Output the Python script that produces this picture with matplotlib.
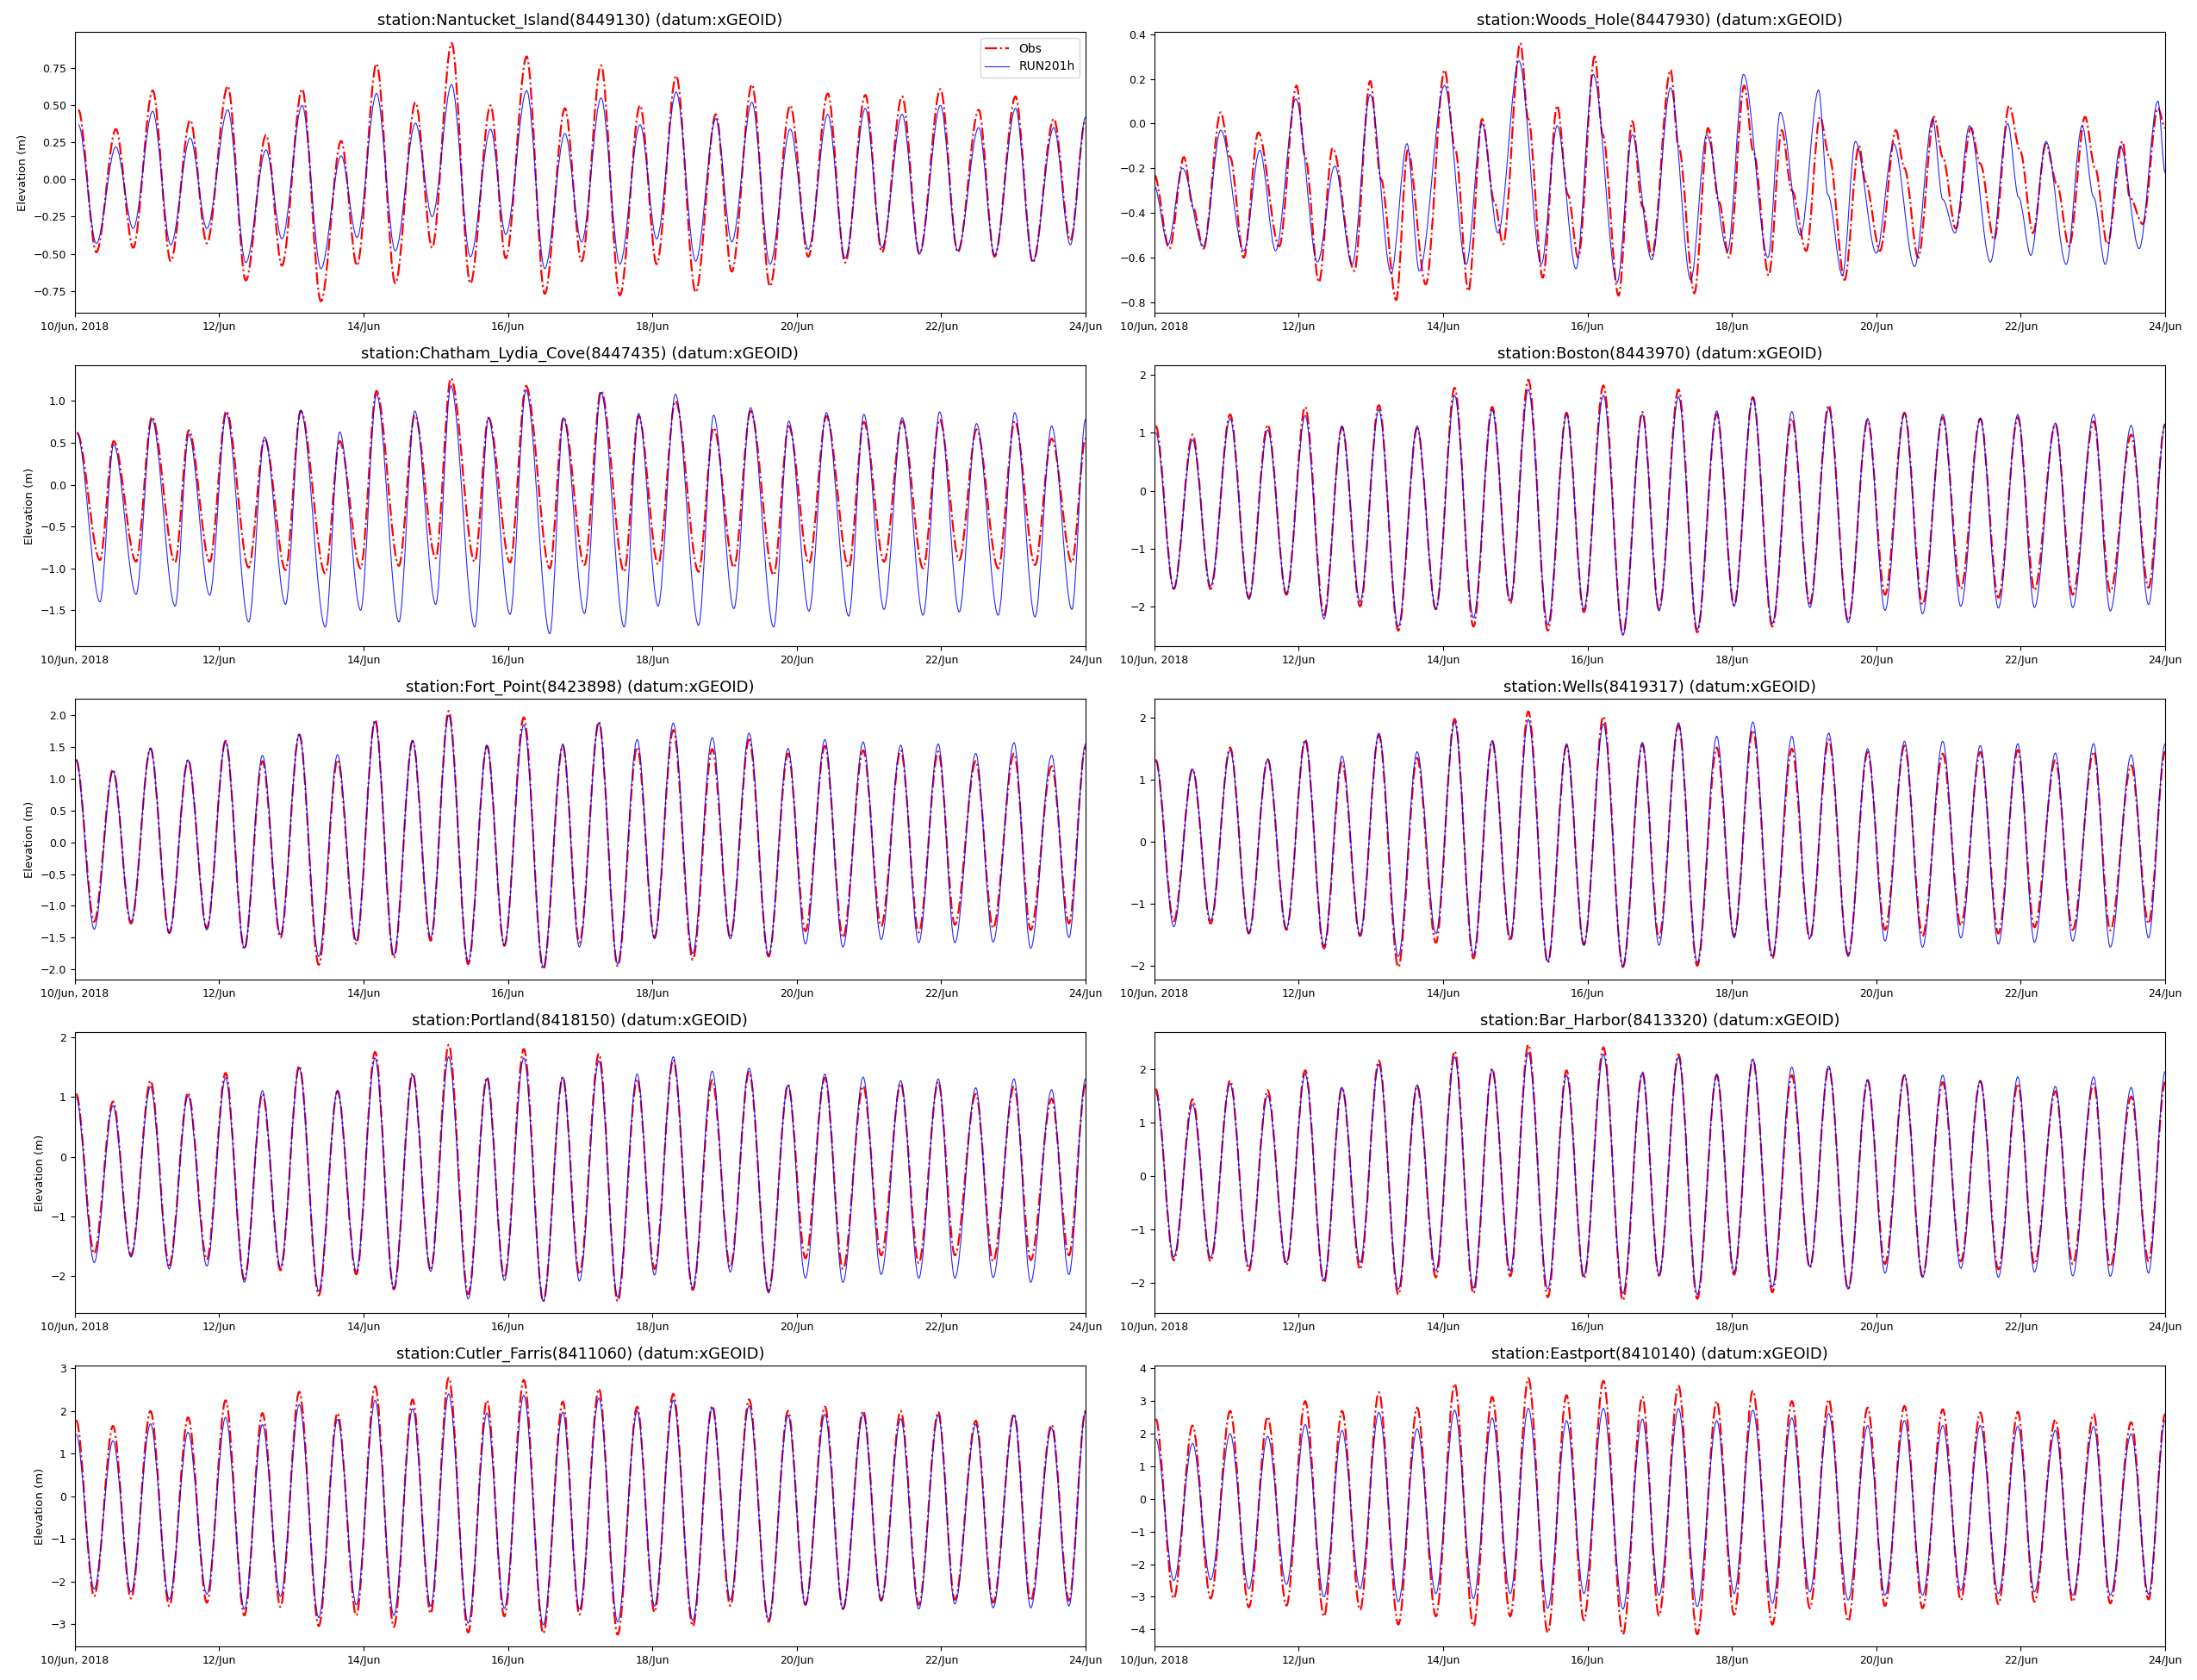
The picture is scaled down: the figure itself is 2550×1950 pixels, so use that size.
import datetime as dt
import numpy as np
import matplotlib
matplotlib.use("Agg")
import matplotlib.pyplot as plt
import matplotlib.dates as mdates
from matplotlib.path import Path
from matplotlib.patches import PathPatch
from matplotlib.lines import Line2D
from matplotlib.ticker import FuncFormatter

START = dt.datetime(2018, 6, 10)
NDAYS = 14.0
TICK_DAYS = [0, 2, 4, 6, 8, 10, 12, 14]

# ---- times of high / low water (days after 10 Jun 2018 00:00) ----
GOM_HIGH_T = [0.02, 0.53, 1.05, 1.57, 2.09, 2.60, 3.11, 3.64, 4.16, 4.68, 5.18, 5.71, 6.22, 6.76,
              7.26, 7.79, 8.29, 8.83, 9.34, 9.88, 10.39, 10.92, 11.44, 11.96, 12.48, 13.01, 13.53]
GOM_LOW_T = [0.27, 0.78, 1.31, 1.83, 2.35, 2.85, 3.38, 3.90, 4.42, 4.93, 5.45, 5.95, 6.49, 6.99,
             7.52, 8.03, 8.56, 9.08, 9.61, 10.12, 10.64, 11.17, 11.69, 12.19, 12.72, 13.24, 13.77]
NAN_HIGH_T = [0.05, 0.57, 1.08, 1.60, 2.12, 2.65, 3.15, 3.69, 4.18, 4.72, 5.22, 5.76, 6.26, 6.79,
              7.29, 7.83, 8.33, 8.88, 9.38, 9.91, 10.43, 10.95, 11.46, 11.99, 12.52, 13.03, 13.56]
NAN_LOW_T = [0.30, 0.81, 1.33, 1.83, 2.37, 2.87, 3.41, 3.91, 4.44, 4.95, 5.48, 5.97, 6.51, 7.02,
             7.55, 8.06, 8.60, 9.10, 9.63, 10.16, 10.67, 11.18, 11.70, 12.23, 12.74, 13.27, 13.79]
CHA_HIGH_T = [0.03, 0.54, 1.07, 1.58, 2.10, 2.63, 3.13, 3.67, 4.18, 4.71, 5.21, 5.73, 6.25, 6.77,
              7.29, 7.81, 8.32, 8.85, 9.36, 9.89, 10.41, 10.93, 11.46, 11.98, 12.49, 13.02, 13.53]
CHA_LOW_T = [0.35, 0.85, 1.39, 1.87, 2.41, 2.92, 3.47, 3.96, 4.49, 5.00, 5.54, 6.03, 6.58, 7.06,
             7.61, 8.08, 8.64, 9.13, 9.68, 10.17, 10.72, 11.21, 11.75, 12.25, 12.79, 13.30, 13.81]

# ---- Nantucket Island ----
NAN_OBS_HIGH = [0.47, 0.34, 0.60, 0.40, 0.63, 0.30, 0.61, 0.26, 0.78, 0.52, 0.92, 0.50, 0.83, 0.48,
                0.77, 0.50, 0.70, 0.44, 0.64, 0.50, 0.58, 0.57, 0.56, 0.61, 0.47, 0.56, 0.41]
NAN_OBS_LOW = [-0.49, -0.46, -0.55, -0.43, -0.68, -0.58, -0.82, -0.58, -0.70, -0.46, -0.70, -0.53, -0.77, -0.55,
               -0.78, -0.57, -0.76, -0.62, -0.72, -0.52, -0.56, -0.49, -0.50, -0.49, -0.52, -0.56, -0.41]
NAN_MOD_HIGH = [0.37, 0.22, 0.46, 0.28, 0.47, 0.20, 0.50, 0.16, 0.58, 0.38, 0.64, 0.34, 0.60, 0.31,
                0.55, 0.37, 0.59, 0.41, 0.52, 0.34, 0.44, 0.48, 0.44, 0.50, 0.35, 0.48, 0.35]
NAN_MOD_LOW = [-0.43, -0.33, -0.44, -0.33, -0.56, -0.40, -0.60, -0.39, -0.48, -0.25, -0.52, -0.37, -0.60, -0.42,
               -0.57, -0.40, -0.55, -0.42, -0.57, -0.47, -0.53, -0.46, -0.50, -0.48, -0.51, -0.55, -0.44]
NAN_END = [0.40, 0.42]

# ---- Woods Hole (irregular curve: turning points incl. shoulders) ----
WH_OBS_T = [0.00, 0.21, 0.41, 0.54, 0.68, 0.92, 1.05, 1.24, 1.44, 1.73, 1.97, 2.09, 2.28, 2.47, 2.77, 2.99,
            3.14, 3.35, 3.51, 3.76, 4.02, 4.17, 4.35, 4.54, 4.71, 4.83, 5.07, 5.18, 5.38, 5.58, 5.73, 5.87,
            6.10, 6.21, 6.43, 6.62, 6.76, 6.89, 7.15, 7.26, 7.48, 7.67, 7.82, 7.96, 8.17, 8.30, 8.51, 8.69,
            8.83, 9.03, 9.22, 9.35, 9.56, 9.76, 9.85, 10.05, 10.27, 10.39, 10.58, 10.80, 10.92, 11.10,
            11.31, 11.44, 11.63, 11.84, 11.99, 12.17, 12.35, 12.50, 12.67, 12.89, 13.03, 13.20, 13.41,
            13.51, 13.69, 13.90, 14.00]
WH_OBS_V = [-0.23, -0.56, -0.15, -0.38, -0.56, 0.05, -0.15, -0.60, -0.04, -0.55, 0.17, -0.15, -0.71, -0.11, -0.66, 0.19,
            -0.25, -0.79, -0.12, -0.72, 0.24, -0.12, -0.75, 0.02, -0.35, -0.54, 0.36, 0.02, -0.69, 0.08, -0.32, -0.60,
            0.30, -0.05, -0.77, 0.01, -0.37, -0.59, 0.24, -0.10, -0.76, -0.02, -0.35, -0.60, 0.17, -0.13, -0.68, -0.03,
            -0.30, -0.57, 0.03, -0.15, -0.70, -0.10, -0.26, -0.57, -0.03, -0.20, -0.60, 0.03, -0.15, -0.47,
            -0.02, -0.18, -0.52, 0.08, -0.12, -0.49, -0.09, -0.27, -0.55, 0.03, -0.20, -0.54, -0.08,
            -0.33, -0.45, 0.07, -0.02]
WH_MOD_T = [0.00, 0.19, 0.39, 0.68, 0.92, 1.24, 1.46, 1.68, 1.96, 2.26, 2.50, 2.74, 2.99, 3.28, 3.50, 3.67,
            4.02, 4.32, 4.54, 4.76, 5.05, 5.36, 5.58, 5.84, 6.08, 6.41, 6.62, 6.89, 7.15, 7.43, 7.65, 7.94,
            8.16, 8.50, 8.67, 8.95, 9.20, 9.33, 9.53, 9.71, 10.00, 10.24, 10.53, 10.78, 10.92, 11.09, 11.29,
            11.58, 11.82, 11.97, 12.14, 12.35, 12.63, 12.85, 13.01, 13.17, 13.38, 13.64, 13.90, 14.00]
WH_MOD_V = [-0.28, -0.54, -0.20, -0.55, -0.03, -0.57, -0.12, -0.57, 0.11, -0.62, -0.19, -0.63, 0.13, -0.67, -0.09, -0.66,
            0.17, -0.63, 0.00, -0.49, 0.28, -0.63, -0.01, -0.65, 0.22, -0.71, -0.05, -0.61, 0.16, -0.70, -0.05, -0.57,
            0.22, -0.60, 0.05, -0.50, 0.15, -0.32, -0.68, -0.08, -0.58, -0.09, -0.64, 0.02, -0.34, -0.49, -0.01,
            -0.62, 0.00, -0.33, -0.59, -0.08, -0.63, -0.01, -0.33, -0.63, -0.10, -0.56, 0.10, -0.22]

# ---- Chatham Lydia Cove ----
CHA_OBS_HIGH = [0.62, 0.52, 0.81, 0.65, 0.88, 0.55, 0.88, 0.52, 1.12, 0.83, 1.27, 0.80, 1.18, 0.80,
                1.12, 0.82, 1.00, 0.68, 0.88, 0.70, 0.82, 0.75, 0.76, 0.78, 0.66, 0.76, 0.55]
CHA_OBS_LOW = [-0.90, -0.92, -0.93, -0.92, -0.99, -1.02, -1.06, -1.00, -0.97, -0.88, -0.92, -0.93, -1.00, -0.96,
               -1.04, -0.95, -1.04, -0.99, -1.08, -0.94, -0.99, -0.92, -1.00, -0.90, -1.00, -0.96, -0.93]
CHA_MOD_HIGH = [0.62, 0.48, 0.78, 0.60, 0.85, 0.57, 0.89, 0.63, 1.08, 0.88, 1.18, 0.80, 1.13, 0.80,
                1.10, 0.85, 1.08, 0.83, 0.92, 0.76, 0.86, 0.84, 0.80, 0.87, 0.73, 0.86, 0.70]
CHA_MOD_LOW = [-1.40, -1.31, -1.45, -1.32, -1.64, -1.43, -1.70, -1.50, -1.64, -1.43, -1.70, -1.55, -1.78, -1.54,
               -1.70, -1.45, -1.68, -1.48, -1.70, -1.51, -1.57, -1.49, -1.56, -1.52, -1.56, -1.58, -1.49]
CHA_END = [0.55, 0.78]

# ---- Boston ----
BOS_OBS_HIGH = [1.12, 0.97, 1.32, 1.14, 1.45, 1.10, 1.48, 1.08, 1.78, 1.45, 1.92, 1.35, 1.82, 1.36,
                1.75, 1.33, 1.62, 1.25, 1.48, 1.22, 1.35, 1.27, 1.25, 1.27, 1.15, 1.20, 0.97]
BOS_OBS_LOW = [-1.70, -1.70, -1.85, -1.80, -2.15, -2.00, -2.42, -2.05, -2.35, -1.95, -2.42, -2.10, -2.48, -2.05,
               -2.45, -1.98, -2.35, -1.95, -2.25, -1.80, -1.97, -1.70, -1.85, -1.72, -1.80, -1.75, -1.68]
BOS_MOD_HIGH = [1.00, 0.88, 1.25, 1.05, 1.30, 1.12, 1.40, 1.12, 1.65, 1.40, 1.75, 1.32, 1.65, 1.32,
                1.62, 1.38, 1.60, 1.37, 1.42, 1.25, 1.33, 1.32, 1.25, 1.32, 1.17, 1.32, 1.13]
BOS_MOD_LOW = [-1.70, -1.65, -1.88, -1.78, -2.22, -1.92, -2.35, -2.05, -2.20, -1.90, -2.32, -2.05, -2.50, -2.08,
               -2.40, -2.00, -2.30, -2.02, -2.28, -2.07, -2.13, -2.00, -2.03, -2.02, -2.02, -2.08, -1.97]
BOS_END = [1.15, 1.15]

# ---- Fort Point ----
FTP_OBS_HIGH = [1.30, 1.15, 1.48, 1.30, 1.60, 1.28, 1.70, 1.30, 1.93, 1.60, 2.07, 1.52, 1.97, 1.52,
                1.90, 1.50, 1.77, 1.47, 1.62, 1.40, 1.52, 1.45, 1.45, 1.43, 1.28, 1.40, 1.20]
FTP_OBS_LOW = [-1.25, -1.28, -1.43, -1.35, -1.68, -1.50, -1.93, -1.60, -1.82, -1.55, -1.92, -1.63, -2.00, -1.58,
               -1.95, -1.50, -1.85, -1.50, -1.80, -1.40, -1.50, -1.32, -1.42, -1.30, -1.35, -1.38, -1.28]
FTP_MOD_HIGH = [1.30, 1.12, 1.48, 1.30, 1.58, 1.37, 1.70, 1.38, 1.90, 1.60, 2.00, 1.53, 1.85, 1.55,
                1.88, 1.62, 1.88, 1.65, 1.72, 1.48, 1.62, 1.58, 1.53, 1.55, 1.40, 1.57, 1.37]
FTP_MOD_LOW = [-1.37, -1.25, -1.43, -1.38, -1.67, -1.45, -1.80, -1.55, -1.78, -1.50, -1.88, -1.62, -1.97, -1.65,
               -1.92, -1.52, -1.75, -1.52, -1.78, -1.60, -1.65, -1.53, -1.58, -1.58, -1.57, -1.67, -1.50]
FTP_END = [1.50, 1.55]

# ---- Wells ----
WEL_OBS_HIGH = [1.32, 1.17, 1.52, 1.33, 1.65, 1.28, 1.72, 1.35, 1.98, 1.62, 2.10, 1.55, 2.02, 1.57,
                1.88, 1.52, 1.80, 1.50, 1.65, 1.45, 1.55, 1.42, 1.45, 1.48, 1.32, 1.45, 1.23]
WEL_OBS_LOW = [-1.28, -1.32, -1.48, -1.42, -1.72, -1.52, -2.02, -1.63, -1.88, -1.60, -1.95, -1.66, -2.02, -1.55,
               -2.00, -1.52, -1.88, -1.57, -1.82, -1.42, -1.52, -1.35, -1.48, -1.38, -1.42, -1.43, -1.32]
WEL_MOD_HIGH = [1.30, 1.17, 1.48, 1.33, 1.62, 1.38, 1.75, 1.45, 1.93, 1.63, 1.97, 1.58, 1.90, 1.60,
                1.92, 1.70, 1.93, 1.70, 1.75, 1.50, 1.62, 1.62, 1.55, 1.58, 1.43, 1.58, 1.40]
WEL_MOD_LOW = [-1.37, -1.27, -1.47, -1.40, -1.68, -1.50, -1.85, -1.48, -1.82, -1.55, -1.93, -1.67, -2.00, -1.67,
               -1.95, -1.55, -1.85, -1.55, -1.85, -1.60, -1.70, -1.55, -1.65, -1.62, -1.60, -1.70, -1.55]
WEL_END = [1.45, 1.58]

# ---- Portland ----
POR_OBS_HIGH = [1.05, 0.92, 1.27, 1.07, 1.40, 1.05, 1.52, 1.10, 1.75, 1.40, 1.87, 1.33, 1.80, 1.33,
                1.72, 1.30, 1.62, 1.28, 1.42, 1.20, 1.32, 1.18, 1.22, 1.25, 1.05, 1.18, 0.97]
POR_OBS_LOW = [-1.62, -1.65, -1.82, -1.72, -2.05, -1.90, -2.32, -1.97, -2.22, -1.90, -2.30, -2.02, -2.42, -1.97,
               -2.42, -1.88, -2.23, -1.85, -2.25, -1.70, -1.88, -1.65, -1.78, -1.65, -1.75, -1.73, -1.65]
POR_MOD_HIGH = [1.00, 0.85, 1.17, 1.02, 1.32, 1.10, 1.48, 1.10, 1.65, 1.37, 1.67, 1.30, 1.65, 1.33,
                1.60, 1.38, 1.67, 1.43, 1.48, 1.20, 1.38, 1.33, 1.27, 1.30, 1.15, 1.30, 1.12]
POR_MOD_LOW = [-1.77, -1.68, -1.88, -1.83, -2.10, -1.85, -2.25, -1.92, -2.20, -1.92, -2.38, -2.07, -2.42, -2.08,
               -2.35, -1.98, -2.20, -1.93, -2.28, -2.03, -2.10, -1.97, -2.03, -2.03, -2.02, -2.10, -1.97]
POR_END = [1.20, 1.30]

# ---- Bar Harbor ----
BAR_OBS_HIGH = [1.62, 1.43, 1.78, 1.60, 1.97, 1.65, 2.15, 1.68, 2.33, 2.00, 2.45, 1.97, 2.40, 1.93,
                2.27, 1.88, 2.17, 1.88, 2.03, 1.78, 1.88, 1.75, 1.77, 1.72, 1.58, 1.72, 1.48]
BAR_OBS_LOW = [-1.58, -1.60, -1.77, -1.67, -2.00, -1.75, -2.22, -1.90, -2.20, -1.88, -2.27, -1.92, -2.33, -1.87,
               -2.30, -1.85, -2.18, -1.72, -2.12, -1.65, -1.88, -1.60, -1.75, -1.65, -1.65, -1.70, -1.60]
BAR_MOD_HIGH = [1.55, 1.33, 1.72, 1.50, 1.90, 1.65, 2.08, 1.70, 2.22, 1.98, 2.30, 1.88, 2.27, 1.92,
                2.22, 1.90, 2.18, 2.03, 2.05, 1.80, 1.88, 1.88, 1.78, 1.85, 1.67, 1.85, 1.65]
BAR_MOD_LOW = [-1.52, -1.53, -1.70, -1.62, -1.95, -1.62, -2.12, -1.78, -2.10, -1.78, -2.12, -1.87, -2.20, -1.85,
               -2.22, -1.80, -2.08, -1.70, -2.12, -1.82, -1.90, -1.73, -1.90, -1.80, -1.87, -1.88, -1.82]
BAR_END = [1.75, 1.95]

# ---- Cutler Farris ----
CUT_OBS_HIGH = [1.78, 1.65, 2.00, 1.85, 2.25, 1.95, 2.45, 1.95, 2.58, 2.27, 2.78, 2.25, 2.73, 2.22,
                2.52, 2.10, 2.40, 2.12, 2.27, 2.00, 2.10, 2.00, 2.00, 1.98, 1.77, 1.93, 1.68]
CUT_OBS_LOW = [-2.35, -2.40, -2.58, -2.50, -2.80, -2.60, -3.05, -2.80, -3.07, -2.75, -3.20, -2.82, -3.22, -2.78,
               -3.25, -2.72, -3.05, -2.57, -2.95, -2.55, -2.65, -2.45, -2.55, -2.43, -2.50, -2.45, -2.45]
CUT_MOD_HIGH = [1.45, 1.30, 1.70, 1.50, 1.85, 1.68, 2.15, 1.80, 2.25, 2.05, 2.40, 1.95, 2.37, 1.97,
                2.30, 2.00, 2.25, 2.08, 2.12, 1.90, 1.92, 1.92, 1.82, 1.90, 1.68, 1.90, 1.60]
CUT_MOD_LOW = [-2.18, -2.25, -2.42, -2.30, -2.65, -2.35, -2.85, -2.55, -2.80, -2.58, -2.98, -2.63, -3.02, -2.65,
               -2.95, -2.58, -2.92, -2.43, -2.90, -2.55, -2.65, -2.45, -2.65, -2.53, -2.62, -2.62, -2.58]
CUT_END = [2.00, 1.97]

# ---- Eastport ----
EAS_OBS_HIGH = [2.45, 2.25, 2.70, 2.52, 3.00, 2.70, 3.27, 2.80, 3.53, 3.13, 3.70, 3.18, 3.62, 3.13,
                3.47, 3.00, 3.32, 3.00, 3.05, 2.80, 2.85, 2.75, 2.65, 2.67, 2.43, 2.60, 2.35]
EAS_OBS_LOW = [-3.05, -3.05, -3.32, -3.27, -3.60, -3.40, -3.85, -3.60, -3.90, -3.60, -4.10, -3.72, -4.15, -3.58,
               -4.15, -3.55, -3.85, -3.35, -3.75, -3.28, -3.35, -3.10, -3.22, -3.15, -3.15, -3.20, -3.08]
EAS_MOD_HIGH = [1.85, 1.70, 2.00, 1.92, 2.28, 2.10, 2.65, 2.15, 2.72, 2.48, 2.78, 2.40, 2.78, 2.45,
                2.77, 2.40, 2.72, 2.48, 2.62, 2.25, 2.40, 2.25, 2.25, 2.23, 2.10, 2.22, 2.00]
EAS_MOD_LOW = [-2.50, -2.48, -2.75, -2.62, -3.00, -2.75, -3.15, -2.90, -3.05, -2.90, -3.35, -2.90, -3.38, -2.95,
               -3.30, -2.90, -3.20, -2.85, -3.10, -2.95, -2.95, -2.80, -2.90, -2.85, -2.95, -2.95, -2.92]
EAS_END = [2.60, 2.40]

TITLES = [
    "station:Nantucket_Island(8449130) (datum:xGEOID)",
    "station:Woods_Hole(8447930) (datum:xGEOID)",
    "station:Chatham_Lydia_Cove(8447435) (datum:xGEOID)",
    "station:Boston(8443970) (datum:xGEOID)",
    "station:Fort_Point(8423898) (datum:xGEOID)",
    "station:Wells(8419317) (datum:xGEOID)",
    "station:Portland(8418150) (datum:xGEOID)",
    "station:Bar_Harbor(8413320) (datum:xGEOID)",
    "station:Cutler_Farris(8411060) (datum:xGEOID)",
    "station:Eastport(8410140) (datum:xGEOID)",
]
YLIMS = [(-0.898, 0.995), (-0.847, 0.41), (-1.93, 1.426), (-2.69, 2.169), (-2.163, 2.263),
         (-2.223, 2.306), (-2.615, 2.082), (-2.566, 2.685), (-3.526, 3.067), (-4.52, 4.09)]


def merge(high_t, high_v, low_t, low_v, end_v):
    pts = sorted(list(zip(high_t, high_v)) + list(zip(low_t, low_v)))
    pts.append((NDAYS, end_v))
    t, v = zip(*pts)
    return list(t), list(v)


def pair(ht, lt, oh, ol, mh, ml, end):
    return merge(ht, oh, lt, ol, end[0]), merge(ht, mh, lt, ml, end[1])


SERIES = [
    pair(NAN_HIGH_T, NAN_LOW_T, NAN_OBS_HIGH, NAN_OBS_LOW, NAN_MOD_HIGH, NAN_MOD_LOW, NAN_END),
    ((WH_OBS_T, WH_OBS_V), (WH_MOD_T, WH_MOD_V)),
    pair(CHA_HIGH_T, CHA_LOW_T, CHA_OBS_HIGH, CHA_OBS_LOW, CHA_MOD_HIGH, CHA_MOD_LOW, CHA_END),
    pair(GOM_HIGH_T, GOM_LOW_T, BOS_OBS_HIGH, BOS_OBS_LOW, BOS_MOD_HIGH, BOS_MOD_LOW, BOS_END),
    pair(GOM_HIGH_T, GOM_LOW_T, FTP_OBS_HIGH, FTP_OBS_LOW, FTP_MOD_HIGH, FTP_MOD_LOW, FTP_END),
    pair(GOM_HIGH_T, GOM_LOW_T, WEL_OBS_HIGH, WEL_OBS_LOW, WEL_MOD_HIGH, WEL_MOD_LOW, WEL_END),
    pair(GOM_HIGH_T, GOM_LOW_T, POR_OBS_HIGH, POR_OBS_LOW, POR_MOD_HIGH, POR_MOD_LOW, POR_END),
    pair(GOM_HIGH_T, GOM_LOW_T, BAR_OBS_HIGH, BAR_OBS_LOW, BAR_MOD_HIGH, BAR_MOD_LOW, BAR_END),
    pair(GOM_HIGH_T, GOM_LOW_T, CUT_OBS_HIGH, CUT_OBS_LOW, CUT_MOD_HIGH, CUT_MOD_LOW, CUT_END),
    pair(GOM_HIGH_T, GOM_LOW_T, EAS_OBS_HIGH, EAS_OBS_LOW, EAS_MOD_HIGH, EAS_MOD_LOW, EAS_END),
]

X0 = mdates.date2num(START)


def tide_path(t, v):
    """Smooth curve through the turning points (horizontal tangent at each)."""
    x = X0 + np.asarray(t, float)
    y = np.asarray(v, float)
    verts = [(x[0], y[0])]
    codes = [Path.MOVETO]
    for i in range(len(x) - 1):
        d = x[i + 1] - x[i]
        verts += [(x[i] + d / 3.0, y[i]), (x[i + 1] - d / 3.0, y[i + 1]), (x[i + 1], y[i + 1])]
        codes += [Path.CURVE4] * 3
    return Path(verts, codes)


def fmt_date(x, pos=None):
    d = mdates.num2date(x)
    if abs(x - X0) < 1e-6:
        return d.strftime("%d/%b, %Y")
    return d.strftime("%d/%b")


fig, axes = plt.subplots(5, 2, figsize=(25.5, 19.5), dpi=100)
fig.subplots_adjust(left=0.034, right=0.9855, top=0.981, bottom=0.020, wspace=0.068, hspace=0.187)

OBS_STYLE = dict(color="red", linestyle="-.", linewidth=1.6)
MOD_STYLE = dict(color="blue", linestyle="-", linewidth=0.8, alpha=0.85)

for k, ax in enumerate(axes.flat):
    (ot, ov), (mt, mv) = SERIES[k]
    ax.add_patch(PathPatch(tide_path(ot, ov), fill=False, joinstyle="round", zorder=2, **OBS_STYLE))
    ax.add_patch(PathPatch(tide_path(mt, mv), fill=False, joinstyle="round", zorder=3, **MOD_STYLE))
    ax.xaxis_date()
    ax.set_xlim(X0, X0 + NDAYS)
    ax.set_ylim(*YLIMS[k])
    ax.set_xticks([X0 + d for d in TICK_DAYS])
    ax.xaxis.set_major_formatter(FuncFormatter(fmt_date))
    ax.tick_params(labelsize=9)
    ax.set_title(TITLES[k], fontsize=13)
    if k % 2 == 0:
        ax.set_ylabel("Elevation (m)", fontsize=9.5)
    if k == 0:
        handles = [Line2D([], [], **OBS_STYLE), Line2D([], [], **MOD_STYLE)]
        ax.legend(handles, ["Obs", "RUN201h"], loc="upper right", fontsize=10)

fig.savefig("out.png", dpi=100)
